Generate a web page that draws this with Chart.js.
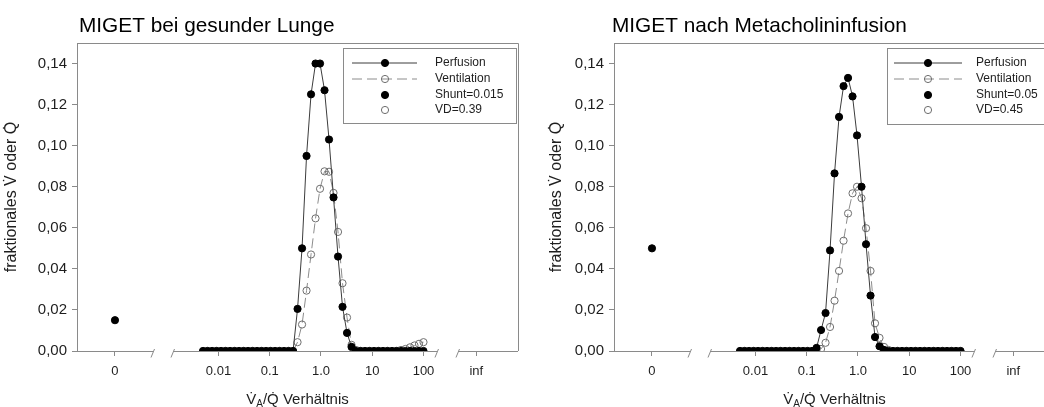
<!DOCTYPE html>
<html>
<head>
<meta charset="utf-8">
<script src="https://cdn.jsdelivr.net/npm/chart.js@4.4.1/dist/chart.umd.min.js"></script>
<style>
  html, body { margin: 0; padding: 0; background: #fff; overflow: hidden; width: 1044px; height: 407px; }
  .panel { position: absolute; top: 0; width: 536px; height: 407px; }
  #panelHealthy { left: 0; }
  #panelMetacholine { left: 537px; }
</style>
</head>
<body>
<div class="panel" id="panelHealthy"><canvas id="chartHealthy" width="536" height="407"></canvas></div>
<div class="panel" id="panelMetacholine"><canvas id="chartMetacholine" width="536" height="407"></canvas></div>
<script>
// ---- data -------------------------------------------------------------
// VA/Q ratios of the 50 MIGET compartments (0.005 ... 100)
const vaqRatio = [
  0.005, 0.006119, 0.007489, 0.009169, 0.01122, 0.01373, 0.01681, 0.02058, 0.02519, 0.03083,
  0.03773, 0.04619, 0.05654, 0.06920, 0.08470, 0.1037, 0.1269, 0.1553, 0.1901, 0.2327,
  0.2848, 0.3486, 0.4267, 0.5223, 0.6393, 0.7824, 0.9575, 1.172, 1.435, 1.756,
  2.149, 2.630, 3.220, 3.941, 4.824, 5.904, 7.226, 8.845, 10.83, 13.25,
  16.22, 19.86, 24.30, 29.74, 36.40, 44.56, 54.54, 66.75, 81.70, 100
];

// healthy lung
const perfusionHealthy = [
  0, 0, 0, 0, 0, 0, 0, 0, 0, 0,
  0, 0, 0, 0, 0, 0, 0, 0, 0, 0,
  0, 0.0205, 0.050, 0.095, 0.125, 0.140, 0.140, 0.127, 0.103, 0.0748,
  0.046, 0.0215, 0.0088, 0.002, 0, 0, 0, 0, 0, 0,
  0, 0, 0, 0, 0, 0, 0, 0, 0, 0
];
const ventilationHealthy = [
  0, 0, 0, 0, 0, 0, 0, 0, 0, 0,
  0, 0, 0, 0, 0, 0, 0, 0, 0, 0,
  0, 0.0043, 0.0129, 0.0294, 0.047, 0.0646, 0.079, 0.0875, 0.0873, 0.077,
  0.058, 0.033, 0.0163, 0.003, 0.0005, 0, 0, 0, 0, 0,
  0, 0, 0, 0, 0.0005, 0.001, 0.0018, 0.0027, 0.0035, 0.0043
];
const shuntHealthy = 0.015;
const deadSpaceHealthy = 0.39;

// after metacholine infusion
const perfusionMetacholine = [
  0, 0, 0, 0, 0, 0, 0, 0, 0, 0,
  0, 0, 0, 0, 0, 0, 0, 0.0015, 0.0102, 0.0185,
  0.049, 0.0865, 0.114, 0.129, 0.133, 0.124, 0.105, 0.080, 0.052, 0.027,
  0.0068, 0.0023, 0.0005, 0, 0, 0, 0, 0, 0, 0,
  0, 0, 0, 0, 0, 0, 0, 0, 0, 0
];
const ventilationMetacholine = [
  0, 0, 0, 0, 0, 0, 0, 0, 0, 0,
  0, 0, 0, 0, 0, 0, 0, 0, 0.001, 0.004,
  0.0117, 0.0245, 0.039, 0.0537, 0.067, 0.0768, 0.080, 0.0744, 0.0598, 0.039,
  0.0135, 0.0064, 0.002, 0.0005, 0, 0, 0, 0, 0, 0,
  0, 0, 0, 0, 0, 0, 0, 0, 0, 0
];
const shuntMetacholine = 0.05;
const deadSpaceMetacholine = 0.45;

// axis ticks
const xTickRatios = [0, 0.01, 0.1, 1, 10, 100, Infinity];
const xTickLabels = ['0', '0.01', '0.1', '1.0', '10', '100', 'inf'];
const yTickValues = [0, 0.02, 0.04, 0.06, 0.08, 0.10, 0.12, 0.14];
const yTickLabels = ['0,00', '0,02', '0,04', '0,06', '0,08', '0,10', '0,12', '0,14'];

// ---- broken ratio axis ------------------------------------------------
// log10 decades in the middle, plus separate "0" (shunt) and "inf" (dead space) slots
const AXIS = { min: -4.761, max: 3.844, zero: -4.02, inf: 3.03 };
const axisSegments = [[-4.761, -3.278], [-2.888, 2.263], [2.673, 3.844]];
function axisPos(r) {
  if (r === 0) return AXIS.zero;
  if (r === Infinity) return AXIS.inf;
  return Math.log10(r);
}

const FONT = '"Liberation Sans", Arial, Helvetica, sans-serif';
const FRAME = '#8a8a8a';
const TEXT = '#1e1e1e';

function drawMarker(ctx, x, y, r, fill, stroke) {
  ctx.beginPath();
  ctx.arc(x, y, r, 0, Math.PI * 2);
  if (fill && fill !== 'transparent') { ctx.fillStyle = fill; ctx.fill(); }
  ctx.lineWidth = 1;
  ctx.strokeStyle = stroke;
  ctx.stroke();
}

const migetDecor = {
  id: 'migetDecor',
  beforeDatasetsDraw(chart) {
    const { ctx, chartArea: a, scales: { x } } = chart;
    ctx.save();
    ctx.strokeStyle = FRAME;
    ctx.lineWidth = 1;
    // top and right frame
    ctx.beginPath();
    ctx.moveTo(a.left, a.top + 0.5);
    ctx.lineTo(a.right + 0.5, a.top + 0.5);
    ctx.lineTo(a.right + 0.5, a.bottom);
    ctx.stroke();
    // broken x axis with break marks
    const yb = Math.round(a.bottom) + 0.5;
    const slash = (px) => {
      ctx.beginPath();
      ctx.moveTo(px - 2, yb + 6);
      ctx.lineTo(px + 1.5, yb - 2.5);
      ctx.stroke();
    };
    axisSegments.forEach(([s, e], k) => {
      const x1 = x.getPixelForValue(s), x2 = x.getPixelForValue(e);
      ctx.beginPath();
      ctx.moveTo(x1, yb);
      ctx.lineTo(x2, yb);
      ctx.stroke();
      if (k > 0) slash(x1);
      if (k < axisSegments.length - 1) slash(x2);
    });
    ctx.restore();
  },
  afterDraw(chart, args, opts) {
    const { ctx, chartArea: a } = chart;
    ctx.save();
    // title
    ctx.fillStyle = '#000';
    ctx.font = `20.8px ${FONT}`;
    ctx.textAlign = 'left';
    ctx.textBaseline = 'alphabetic';
    ctx.fillText(opts.title, opts.titleX, 32);

    // y axis title
    ctx.save();
    ctx.translate(opts.yTitleX, (a.top + a.bottom) / 2);
    ctx.rotate(-Math.PI / 2);
    ctx.font = `16px ${FONT}`;
    ctx.fillStyle = TEXT;
    ctx.textAlign = 'center';
    ctx.textBaseline = 'middle';
    ctx.fillText('fraktionales V\u0307 oder Q\u0307', 0, 0);
    ctx.restore();

    // x axis title with subscript
    const parts = [
      { t: 'V\u0307', f: `15px ${FONT}`, dy: 0 },
      { t: 'A', f: `10px ${FONT}`, dy: 3 },
      { t: '/Q\u0307 Verhältnis', f: `15px ${FONT}`, dy: 0 }
    ];
    let total = 0;
    parts.forEach(p => { ctx.font = p.f; p.w = ctx.measureText(p.t).width; total += p.w; });
    let cx = (a.left + a.right) / 2 - total / 2;
    ctx.fillStyle = TEXT;
    ctx.textAlign = 'left';
    ctx.textBaseline = 'alphabetic';
    parts.forEach(p => { ctx.font = p.f; ctx.fillText(p.t, cx, 404 + p.dy); cx += p.w; });

    // legend
    const L = opts.legend;
    ctx.strokeStyle = FRAME;
    ctx.lineWidth = 1;
    ctx.strokeRect(L.left + 0.5, L.top + 0.5, L.width, L.height);
    ctx.font = `12px ${FONT}`;
    ctx.textBaseline = 'middle';
    chart.data.datasets.forEach((ds, i) => {
      const y = L.rowY[i];
      if (ds.showLine) {
        ctx.save();
        ctx.strokeStyle = ds.borderColor;
        ctx.lineWidth = ds.borderWidth;
        ctx.setLineDash(ds.borderDash || []);
        ctx.beginPath();
        ctx.moveTo(L.lineX1, y);
        ctx.lineTo(L.lineX2, y);
        ctx.stroke();
        ctx.restore();
      }
      drawMarker(ctx, L.markX, y, ds.pointRadius, ds.pointBackgroundColor, ds.pointBorderColor);
      ctx.fillStyle = TEXT;
      ctx.fillText(ds.label, L.textX, y);
    });
    ctx.restore();
  }
};

function buildChart(canvasId, s) {
  const pts = (vals) => vaqRatio.map((r, i) => ({ x: axisPos(r), y: vals[i] }));
  const R = 3.6;
  return new Chart(document.getElementById(canvasId), {
    type: 'scatter',
    data: {
      datasets: [
        {
          label: 'Perfusion', data: pts(s.perfusion), showLine: true,
          borderColor: '#3c3c3c', borderWidth: 1,
          pointRadius: R, pointBackgroundColor: '#000', pointBorderColor: '#000', pointBorderWidth: 1,
          order: 1
        },
        {
          label: 'Ventilation', data: pts(s.ventilation), showLine: true,
          borderColor: '#8c8c8c', borderWidth: 1, borderDash: [10, 5],
          pointRadius: R, pointBackgroundColor: 'transparent', pointBorderColor: '#6e6e6e', pointBorderWidth: 1,
          order: 2
        },
        {
          label: `Shunt=${s.shunt}`, data: [{ x: axisPos(0), y: s.shunt }], showLine: false,
          pointRadius: R, pointBackgroundColor: '#000', pointBorderColor: '#000', pointBorderWidth: 1,
          order: 0
        },
        {
          label: `VD=${s.deadSpace}`, data: [{ x: axisPos(Infinity), y: s.deadSpace }], showLine: false,
          pointRadius: R, pointBackgroundColor: '#fff', pointBorderColor: '#6e6e6e', pointBorderWidth: 1,
          order: 3
        }
      ]
    },
    options: {
      responsive: false,
      animation: false,
      devicePixelRatio: 1,
      events: [],
      layout: { padding: { top: 43, right: 18, bottom: 0, left: 0 } },
      plugins: {
        legend: { display: false },
        title: { display: false },
        tooltip: { enabled: false },
        migetDecor: s.decor
      },
      scales: {
        x: {
          type: 'linear',
          min: AXIS.min, max: AXIS.max,
          afterFit: (sc) => { sc.height = 56; },
          afterBuildTicks: (sc) => { sc.ticks = xTickRatios.map(r => ({ value: axisPos(r) })); },
          grid: { drawOnChartArea: false, drawTicks: true, tickLength: 5, color: FRAME },
          border: { display: false },
          ticks: {
            autoSkip: false, maxRotation: 0, padding: 8, color: TEXT,
            font: { family: FONT, size: 13 },
            callback: (v, i) => xTickLabels[i]
          }
        },
        y: {
          type: 'linear',
          min: 0, max: 0.15,
          afterFit: (sc) => { sc.width = 77; },
          afterBuildTicks: (sc) => { sc.ticks = yTickValues.map(v => ({ value: v })); },
          grid: { drawOnChartArea: false, drawTicks: true, tickLength: 5, color: FRAME },
          border: { display: true, color: FRAME, width: 1 },
          ticks: {
            padding: 5, color: TEXT,
            font: { family: FONT, size: 15 },
            callback: (v, i) => yTickLabels[i]
          }
        }
      }
    },
    plugins: [migetDecor]
  });
}

buildChart('chartHealthy', {
  perfusion: perfusionHealthy,
  ventilation: ventilationHealthy,
  shunt: shuntHealthy,
  deadSpace: deadSpaceHealthy,
  decor: {
    title: 'MIGET bei gesunder Lunge', titleX: 79, yTitleX: 12,
    legend: { left: 343, top: 48, width: 173, height: 75, lineX1: 352, lineX2: 417, markX: 385, textX: 435, rowY: [63, 79, 95, 110] }
  }
});

buildChart('chartMetacholine', {
  perfusion: perfusionMetacholine,
  ventilation: ventilationMetacholine,
  shunt: shuntMetacholine,
  deadSpace: deadSpaceMetacholine,
  decor: {
    title: 'MIGET nach Metacholininfusion', titleX: 75, yTitleX: 20,
    legend: { left: 350, top: 48, width: 173, height: 76, lineX1: 357, lineX2: 425, markX: 391, textX: 439, rowY: [63, 79, 95, 110] }
  }
});
</script>
</body>
</html>
